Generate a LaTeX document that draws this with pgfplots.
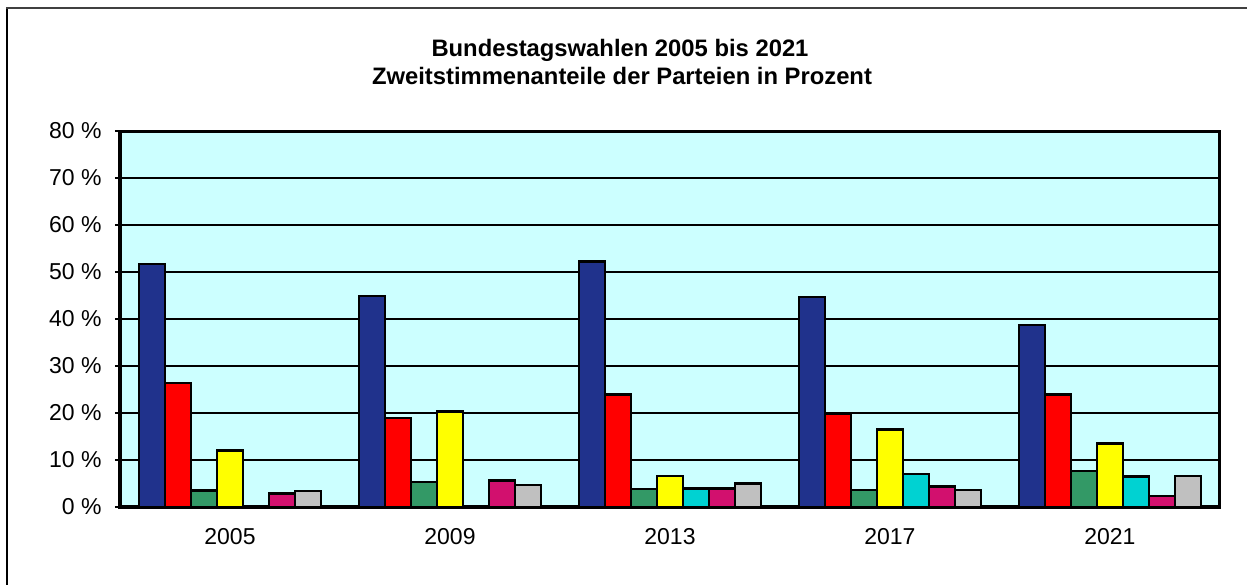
\documentclass[border=0pt]{standalone}
\usepackage{pgfplots}
\pgfplotsset{compat=1.18}
\usepackage{fontspec}
\setmainfont{Liberation Sans}
\definecolor{cblue}{RGB}{32,50,140}
\definecolor{cred}{RGB}{255,0,0}
\definecolor{cgreen}{RGB}{51,153,102}
\definecolor{cyellow}{RGB}{255,255,0}
\definecolor{cturq}{RGB}{0,210,210}
\definecolor{cmag}{RGB}{210,16,110}
\definecolor{cgray}{RGB}{192,192,192}
\definecolor{cbg}{RGB}{204,255,255}
\begin{document}
\begin{tikzpicture}
\path[use as bounding box] (0bp,0bp) rectangle (1247bp,585bp);
\draw[line width=2.2bp, black] (7bp,0bp) -- (7bp,577bp);
\draw[line width=2.5bp, black!75] (6bp,577bp) -- (1247bp,577bp);
\node[anchor=base, font=\fontsize{23.8bp}{27bp}\selectfont\bfseries] at (620bp,528.3bp) {Bundestagswahlen 2005 bis 2021};
\node[anchor=base, font=\fontsize{23.8bp}{27bp}\selectfont\bfseries] at (622bp,500.7bp) {Zweitstimmenanteile der Parteien in Prozent};
\begin{axis}[
  at={(120bp,78bp)}, anchor=south west,
  scale only axis, width=1100bp, height=376bp,
  xmin=-0.5, xmax=4.5, ymin=0, ymax=80,
  ybar=0pt, bar width=26bp,
  axis background/.style={fill=cbg},
  axis line style={line width=3bp, black},
  ymajorgrids, major grid style={line width=2.3bp, black},
  xtick={0,1,2,3,4}, xticklabels={2005,2009,2013,2017,2021},
  ytick={0,10,...,80},
  yticklabels={0 \%,10 \%,20 \%,30 \%,40 \%,50 \%,60 \%,70 \%,80 \%},
  ytick pos=left, xtick pos=bottom,
  tick align=outside, major tick length=5bp,
  ytick style={line width=1.5bp, black},
  xtick style={draw=none},
  tick label style={font=\fontsize{23bp}{27bp}\selectfont},
  yticklabel style={xshift=-10bp},
  xticklabel style={yshift=-13bp},
  every axis plot/.append style={draw=black, line width=2.6bp},
]
\addplot[fill=cblue] coordinates {(0,51.7) (1,44.9) (2,52.2) (3,44.7) (4,38.7)};
\addplot[fill=cred] coordinates {(0,26.4) (1,18.9) (2,24.0) (3,19.8) (4,24.0)};
\addplot[fill=cgreen] coordinates {(0,3.5) (1,5.3) (2,3.8) (3,3.6) (4,7.7)};
\addplot[fill=cyellow] coordinates {(0,12.0) (1,20.3) (2,6.6) (3,16.5) (4,13.5)};
\addplot[fill=cturq] coordinates {(2,3.9) (3,7.0) (4,6.5)};
\addplot[fill=cmag] coordinates {(0,2.9) (1,5.6) (2,4.0) (3,4.3) (4,2.3)};
\addplot[fill=cgray] coordinates {(0,3.4) (1,4.7) (2,5.0) (3,3.6) (4,6.6)};
\end{axis}
\end{tikzpicture}
\end{document}
